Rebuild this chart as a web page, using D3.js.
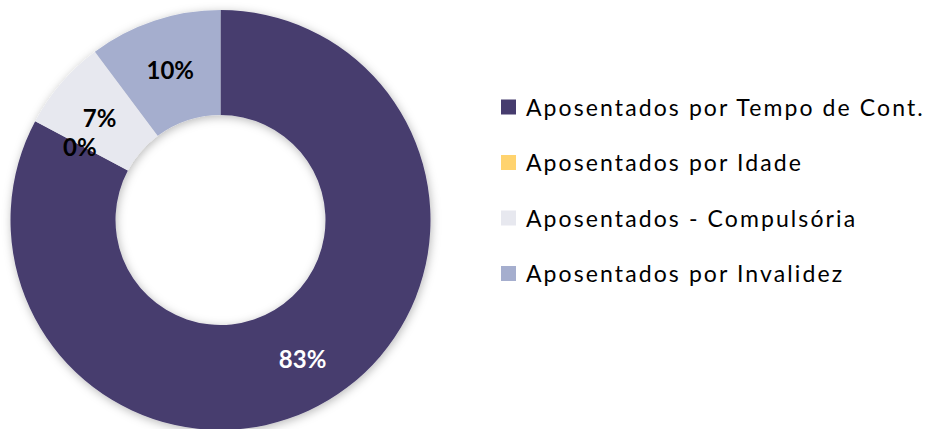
<!DOCTYPE html>
<html>
<head>
<meta charset="utf-8">
<script src="https://cdn.jsdelivr.net/npm/d3@7"></script>
<style>
  body { margin: 0; background: #fff; }
  svg { display: block; }
</style>
</head>
<body>
<div id="chart"></div>
<script>
// données
const categorias = ["Aposentados por Tempo de Cont.", "Aposentados por Idade", "Aposentados - Compulsória", "Aposentados por Invalidez"]
const valores = [82.8, 0, 7.0, 10.2]
const rotulos = ["83%", "0%", "7%", "10%"]
const cores = ["#463c6e", "#ffd36e", "#e7e8ef", "#a5aece"]

const width = 925, height = 429
const cx = 220.5, cy = 220
const outerR = 210, innerR = 105

const svg = d3.select('#chart')
    .append('svg')
    .attr("width", width)
    .attr("height", height)

// ombre douce
const defs = svg.append("defs")
defs.append("filter")
    .attr("id", "ombre")
    .attr("x", "-20%").attr("y", "-20%")
    .attr("width", "140%").attr("height", "140%")
    .append("feDropShadow")
    .attr("dx", 1).attr("dy", 2)
    .attr("stdDeviation", 5)
    .attr("flood-color", "#000")
    .attr("flood-opacity", 0.28)

const pie = d3.pie().sort(null).value(d => d)
const arcs = pie(valores)

const arc = d3.arc().innerRadius(innerR).outerRadius(outerR)
const labelArc = d3.arc().innerRadius((innerR + outerR) / 2 + 2).outerRadius((innerR + outerR) / 2 + 2)

const g = svg.append("g")
    .attr("transform", "translate(" + cx + "," + cy + ")")

g.append("g")
    .attr("filter", "url(#ombre)")
    .selectAll("path")
    .data(arcs)
    .join("path")
    .attr("d", arc)
    .attr("fill", (d, i) => cores[i])

g.selectAll("text.pct")
    .data(arcs)
    .join("text")
    .attr("class", "pct")
    .attr("transform", d => "translate(" + labelArc.centroid(d) + ")")
    .attr("text-anchor", "middle")
    .attr("dy", "0.45em")
    .style("font-family", "Lato, 'Open Sans', sans-serif")
    .style("font-weight", "bold")
    .style("font-size", "24px")
    .attr("fill", (d, i) => i === 0 ? "#ffffff" : "#000000")
    .text((d, i) => rotulos[i])

// légende
const legend = svg.append("g")
    .attr("transform", "translate(501,107)")

const item = legend.selectAll("g")
    .data(categorias)
    .join("g")
    .attr("transform", (d, i) => "translate(0," + (i * 55.5) + ")")

item.append("rect")
    .attr("x", 0)
    .attr("y", -7.5)
    .attr("width", 15)
    .attr("height", 15)
    .attr("fill", (d, i) => cores[i])

item.append("text")
    .attr("x", 25)
    .attr("dy", "0.38em")
    .style("font-family", "Lato, 'Open Sans', sans-serif")
    .style("font-size", "23px")
    .style("letter-spacing", "2.1px")
    .attr("fill", "#000")
    .text(d => d)
</script>
</body>
</html>
